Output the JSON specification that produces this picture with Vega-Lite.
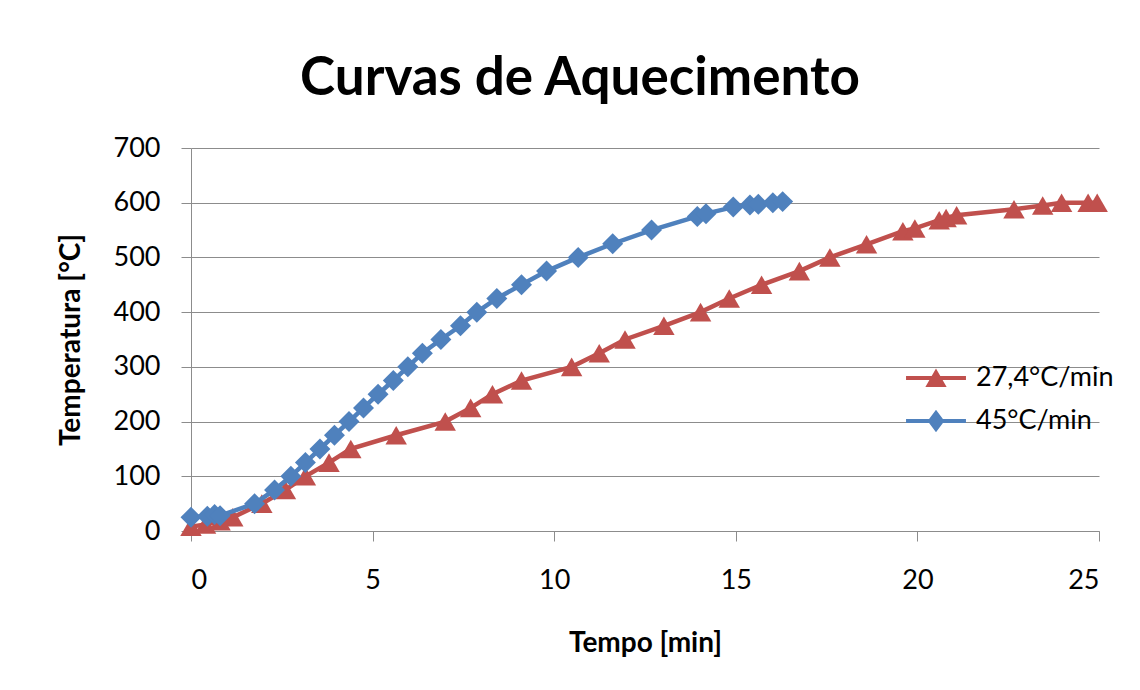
{
  "$schema": "https://vega.github.io/schema/vega-lite/v6.json",
  "autosize": {"type": "none"},
  "width": 908,
  "height": 383,
  "padding": {"left": 191, "top": 148, "right": 41, "bottom": 159},
  "background": "white",
  "title": {
    "text": "Curvas de Aquecimento",
    "font": "Lato",
    "fontSize": 53,
    "fontWeight": "bold",
    "color": "#000000",
    "anchor": "middle",
    "baseline": "alphabetic",
    "dx": -65,
    "offset": -14
  },
  "config": {
    "view": {"stroke": null},
    "axis": {
      "labelFont": "Lato",
      "labelFontSize": 27,
      "labelColor": "#000000",
      "titleFont": "Lato",
      "titleFontSize": 28,
      "titleFontWeight": "bold",
      "titleColor": "#000000",
      "domainColor": "#8c8c8c",
      "tickColor": "#8c8c8c",
      "gridColor": "#8c8c8c",
      "tickSize": 10,
      "domainWidth": 1,
      "tickWidth": 1,
      "gridWidth": 1
    }
  },
  "data": {
    "values": [
      {"serie": "27,4°C/min", "t": 0, "T": 8},
      {"serie": "27,4°C/min", "t": 0.4, "T": 12},
      {"serie": "27,4°C/min", "t": 0.8, "T": 18},
      {"serie": "27,4°C/min", "t": 1.15, "T": 25},
      {"serie": "27,4°C/min", "t": 1.95, "T": 50},
      {"serie": "27,4°C/min", "t": 2.6, "T": 75},
      {"serie": "27,4°C/min", "t": 3.15, "T": 100},
      {"serie": "27,4°C/min", "t": 3.8, "T": 125},
      {"serie": "27,4°C/min", "t": 4.4, "T": 150},
      {"serie": "27,4°C/min", "t": 5.65, "T": 175},
      {"serie": "27,4°C/min", "t": 7.0, "T": 200},
      {"serie": "27,4°C/min", "t": 7.7, "T": 225},
      {"serie": "27,4°C/min", "t": 8.3, "T": 250},
      {"serie": "27,4°C/min", "t": 9.1, "T": 275},
      {"serie": "27,4°C/min", "t": 10.48, "T": 300},
      {"serie": "27,4°C/min", "t": 11.24, "T": 325},
      {"serie": "27,4°C/min", "t": 11.95, "T": 350},
      {"serie": "27,4°C/min", "t": 13.02, "T": 375},
      {"serie": "27,4°C/min", "t": 14.03, "T": 400},
      {"serie": "27,4°C/min", "t": 14.82, "T": 425},
      {"serie": "27,4°C/min", "t": 15.71, "T": 450},
      {"serie": "27,4°C/min", "t": 16.75, "T": 475},
      {"serie": "27,4°C/min", "t": 17.59, "T": 500},
      {"serie": "27,4°C/min", "t": 18.6, "T": 524},
      {"serie": "27,4°C/min", "t": 19.6, "T": 548},
      {"serie": "27,4°C/min", "t": 19.93, "T": 553},
      {"serie": "27,4°C/min", "t": 20.6, "T": 568},
      {"serie": "27,4°C/min", "t": 20.79, "T": 572},
      {"serie": "27,4°C/min", "t": 21.08, "T": 577},
      {"serie": "27,4°C/min", "t": 22.66, "T": 588},
      {"serie": "27,4°C/min", "t": 23.45, "T": 595},
      {"serie": "27,4°C/min", "t": 23.97, "T": 600},
      {"serie": "27,4°C/min", "t": 24.7, "T": 600},
      {"serie": "27,4°C/min", "t": 24.95, "T": 600},
      {"serie": "45°C/min", "t": 0, "T": 25},
      {"serie": "45°C/min", "t": 0.45, "T": 27},
      {"serie": "45°C/min", "t": 0.65, "T": 30},
      {"serie": "45°C/min", "t": 0.8, "T": 28},
      {"serie": "45°C/min", "t": 1.75, "T": 50},
      {"serie": "45°C/min", "t": 2.3, "T": 75},
      {"serie": "45°C/min", "t": 2.75, "T": 100},
      {"serie": "45°C/min", "t": 3.15, "T": 125},
      {"serie": "45°C/min", "t": 3.55, "T": 150},
      {"serie": "45°C/min", "t": 3.95, "T": 175},
      {"serie": "45°C/min", "t": 4.35, "T": 200},
      {"serie": "45°C/min", "t": 4.75, "T": 225},
      {"serie": "45°C/min", "t": 5.15, "T": 250},
      {"serie": "45°C/min", "t": 5.57, "T": 275},
      {"serie": "45°C/min", "t": 5.97, "T": 300},
      {"serie": "45°C/min", "t": 6.37, "T": 325},
      {"serie": "45°C/min", "t": 6.88, "T": 350},
      {"serie": "45°C/min", "t": 7.42, "T": 375},
      {"serie": "45°C/min", "t": 7.87, "T": 400},
      {"serie": "45°C/min", "t": 8.42, "T": 425},
      {"serie": "45°C/min", "t": 9.1, "T": 450},
      {"serie": "45°C/min", "t": 9.79, "T": 475},
      {"serie": "45°C/min", "t": 10.66, "T": 500},
      {"serie": "45°C/min", "t": 11.61, "T": 525},
      {"serie": "45°C/min", "t": 12.68, "T": 550},
      {"serie": "45°C/min", "t": 13.94, "T": 575},
      {"serie": "45°C/min", "t": 14.18, "T": 580},
      {"serie": "45°C/min", "t": 14.93, "T": 592},
      {"serie": "45°C/min", "t": 15.39, "T": 596},
      {"serie": "45°C/min", "t": 15.62, "T": 597},
      {"serie": "45°C/min", "t": 16.02, "T": 600},
      {"serie": "45°C/min", "t": 16.29, "T": 602}
    ]
  },
  "encoding": {
    "x": {
      "field": "t",
      "type": "quantitative",
      "scale": {"domain": [0, 25], "nice": false},
      "axis": {
        "values": [0, 5, 10, 15, 20, 25],
        "grid": false,
        "title": "Tempo [min]",
        "labelPadding": 26,
        "titlePadding": 36
      }
    },
    "y": {
      "field": "T",
      "type": "quantitative",
      "scale": {"domain": [0, 700], "nice": false},
      "axis": {
        "values": [0, 100, 200, 300, 400, 500, 600, 700],
        "grid": true,
        "title": "Temperatura [°C]",
        "labelPadding": 21,
        "titlePadding": 28
      }
    },
    "color": {
      "field": "serie",
      "type": "nominal",
      "scale": {"domain": ["27,4°C/min", "45°C/min"], "range": ["#C0504D", "#4F81BD"]},
      "legend": {
        "orient": "none",
        "legendX": 717,
        "legendY": 202,
        "title": null,
        "padding": 0,
        "symbolSize": 3136,
        "symbolStrokeWidth": 0,
        "labelFont": "Lato",
        "labelFontSize": 27,
        "labelColor": "#000000",
        "labelOffset": 12,
        "rowPadding": 2,
        "encode": {
          "symbols": {
            "update": {
              "shape": {"signal": "datum.value === '45°C/min' ? 'M-1.07,-0.07H1.07V0.07H-1.07Z M0,-0.4L0.3,0L0,0.4L-0.3,0Z' : 'M-1.07,-0.07H1.07V0.07H-1.07Z M-0.38,0.32L0,-0.34L0.38,0.32Z'"},
              "fill": {"signal": "datum.value === '45°C/min' ? '#4F81BD' : '#C0504D'"},
              "strokeWidth": {"value": 0},
              "opacity": {"value": 1}
            }
          }
        }
      }
    }
  },
  "layer": [
    {
      "transform": [{"filter": "datum.serie === '27,4°C/min'"}],
      "mark": {"type": "line", "strokeWidth": 4.5}
    },
    {
      "transform": [{"filter": "datum.serie === '27,4°C/min'"}],
      "mark": {"type": "point", "shape": "triangle-up", "filled": true, "size": 460, "opacity": 1}
    },
    {
      "transform": [{"filter": "datum.serie === '45°C/min'"}],
      "mark": {"type": "line", "strokeWidth": 4.5}
    },
    {
      "transform": [{"filter": "datum.serie === '45°C/min'"}],
      "mark": {"type": "point", "shape": "diamond", "filled": true, "size": 440, "opacity": 1}
    }
  ]
}
